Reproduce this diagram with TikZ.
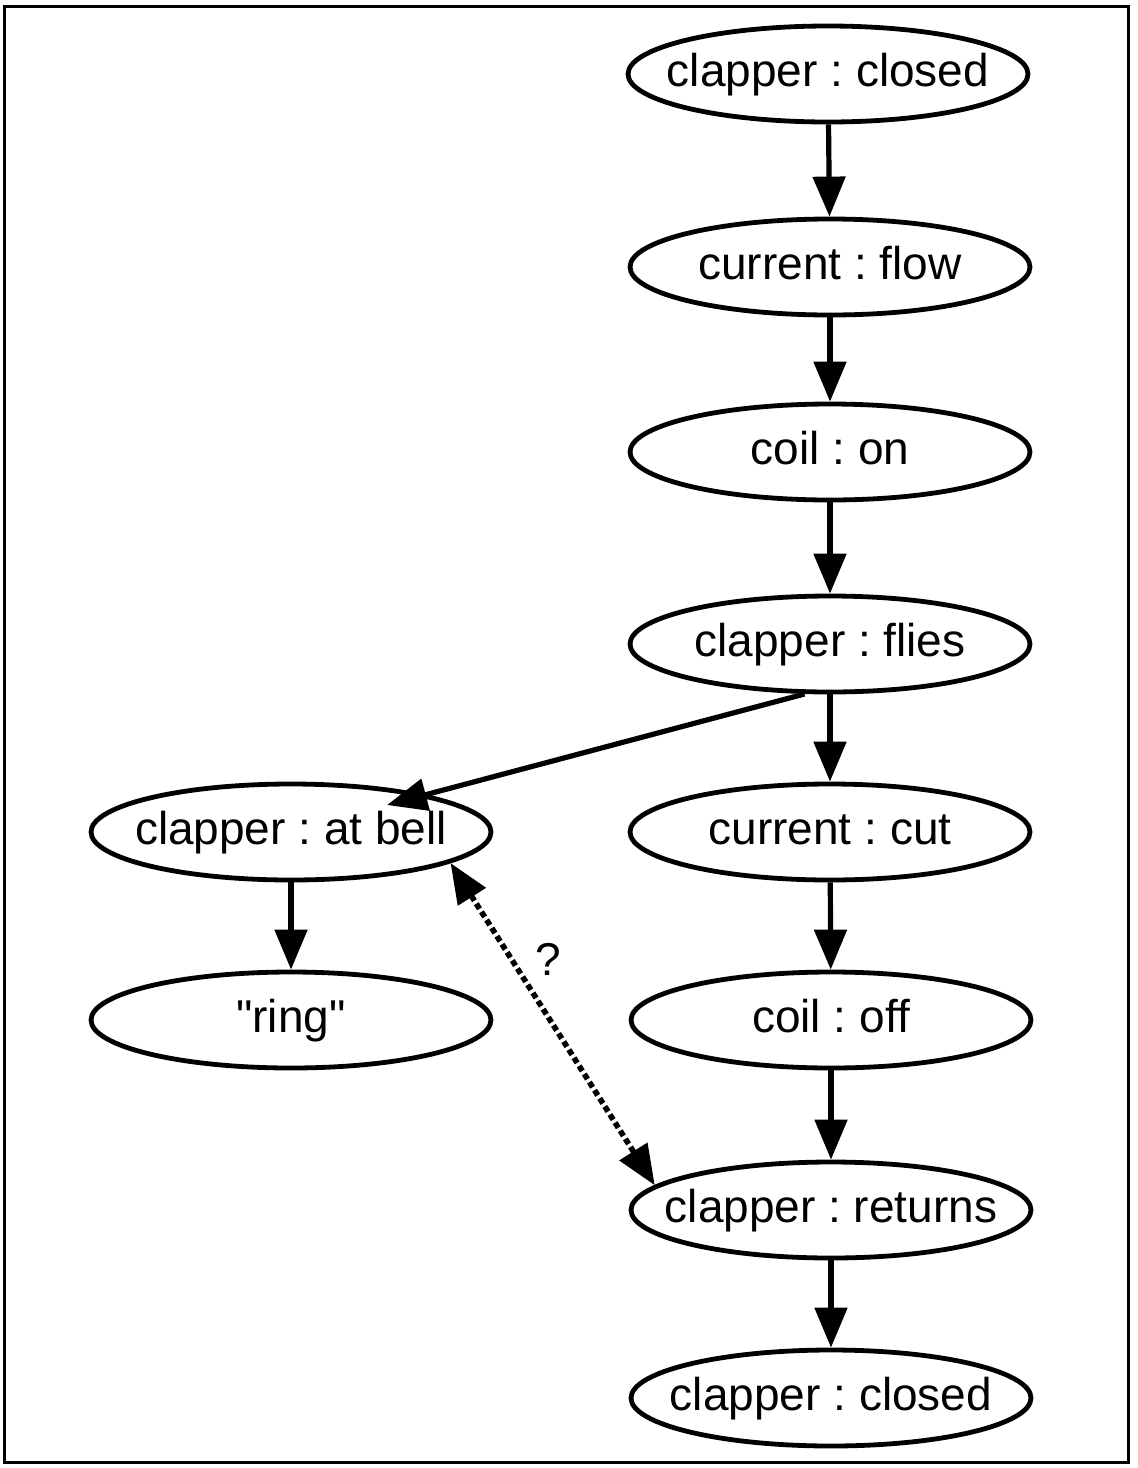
\documentclass[tikz,border=0pt]{standalone}
\usepackage{fontspec}
\setmainfont{Liberation Sans}
\usetikzlibrary{arrows.meta,shapes.geometric,calc}
\begin{document}
\frenchspacing
\begin{tikzpicture}[x=0.5pt,y=-0.5pt,
  state/.style={ellipse, draw, line width=2.4pt, minimum width=200pt,
    minimum height=48pt, inner xsep=-15pt, inner ysep=0pt,
    text height=17pt, text depth=5pt,
    font=\fontsize{23}{28}\selectfont},
  flow/.style={line width=2.6pt, -{Triangle[length=20pt,width=16pt]}},
  maybe/.style={line width=2.8pt, dash pattern=on 3pt off 1.8pt,
    {Triangle[length=20pt,width=16pt]}-{Triangle[length=20pt,width=16pt]}}]

% page and frame
\useasboundingbox (0,0) rectangle (1137,1468);
\draw[line width=1.5pt] (4,6) rectangle (1128,1462);

% main chain of states
\node[state] (closedA) at (828,74)   {clapper : closed};
\node[state] (flowing) at (830,267)  {current : flow};
\node[state] (coilon)  at (830,452)  {coil : on};
\node[state] (flies)   at (830,644)  {clapper : flies};
\node[state] (cut)     at (830,832)  {current : cut};
\node[state] (coiloff) at (831,1020) {coil : off};
\node[state] (returns) at (831,1210) {clapper : returns};
\node[state] (closedB) at (831,1398) {clapper : closed};

% side branch
\node[state] (atbell)  at (291,832)  {clapper : at bell};
\node[state] (ring)    at (291,1020) {\textquotedbl ring\textquotedbl};

% connectors
\draw[flow] (closedA) -- (flowing);
\draw[flow] (flowing) -- (coilon);
\draw[flow] (coilon)  -- (flies);
\draw[flow] (flies)   -- (cut);
\draw[flow] (cut)     -- (coiloff);
\draw[flow] (coiloff) -- (returns);
\draw[flow] (returns) -- (closedB);
\draw[flow] (atbell)  -- (ring);
\draw[flow] (flies.243) -- ($(atbell.center)+(96,-27)$);

\draw[maybe] (atbell.-11) -- (returns.172)
  node[pos=0.3, xshift=18pt, font=\fontsize{23}{28}\selectfont] (q) {?};

\end{tikzpicture}
\end{document}
